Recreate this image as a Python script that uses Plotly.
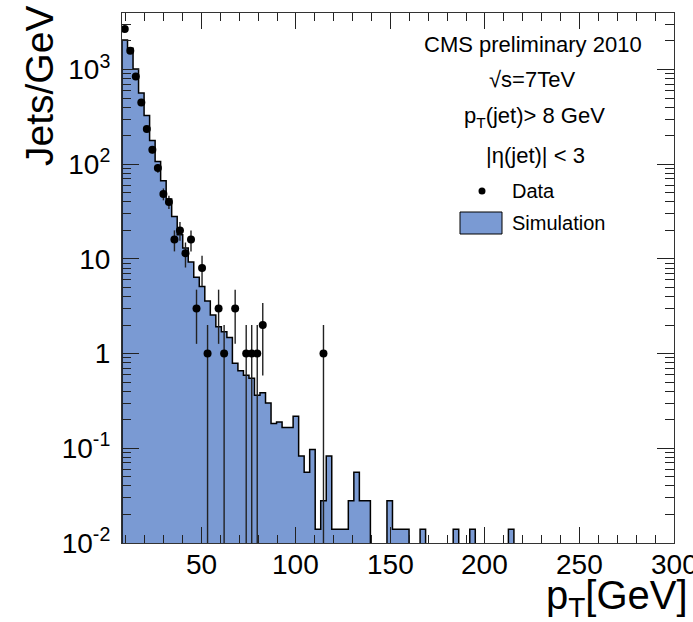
import math
import plotly.graph_objects as go

# ---------------- data ----------------
x_min, x_max = 8.0, 300.0
bin_width = 2.92          # 100 bins between 8 and 300 GeV
n_bins = 100

# simulation (Jets/GeV) per bin, bins 0..70 (later bins empty)
sim_vals = [2050, 1680, 1010, 564, 327, 178, 107, 67, 43, 28,
            18, 13, 9.3, 6.4, 5.1, 3.6, 2.55, 1.92, 1.70, 1.48,
            0.79, 0.66, 0.59, 0.55, 0.364, 0.385, 0.30, 0.183, 0.19, 0.166,
            0.166, 0.218, 0.083, 0.056, 0.097, 0.014, 0.028, 0.083, 0.014, 0.014,
            0.014, 0.028, 0.056, 0.028, 0.028, 0, 0, 0, 0.028, 0.014,
            0.014, 0.014, 0, 0, 0.014, 0, 0, 0, 0, 0,
            0.014, 0, 0, 0.014, 0, 0, 0, 0, 0, 0,
            0.014]

# data (Jets/GeV) per bin, bins 0..36 (0 = no entry)
data_vals = [2670, 1580, 843, 448, 236, 142, 91, 48.5, 40, 16,
             20, 11.5, 16, 3, 8, 1, 0, 3, 1, 0,
             3, 0, 1, 1, 1, 2, 0, 0, 0, 0,
             0, 0, 0, 0, 0, 0, 1]

y_tick_vals = [0.01, 0.1, 1, 10, 100, 1000]
y_tick_text = ["10<sup>-2</sup>", "10<sup>-1</sup>", "1", "10",
               "10<sup>2</sup>", "10<sup>3</sup>"]
x_tick_vals = [50, 100, 150, 200, 250, 300]
x_tick_text = ["50", "100", "150", "200", "250", "300"]
y_top = 3950

# ---------------- layout geometry (pixels) ----------------
W, H = 693, 622
PL, PR, PT, PB = 122, 674, 13, 543


def px(x):
    return (x - PL) / (PR - PL)


def py(y):
    return (PB - y) / (PB - PT)


FONT = "Liberation Sans, Arial, Helvetica, sans-serif"
FILL = "rgb(122,154,211)"

edges = [x_min + bin_width * i for i in range(n_bins + 1)]
sim_full = sim_vals + [0] * (n_bins - len(sim_vals))
floor = 1e-6
hx = [edges[0]] + edges[:n_bins] + [edges[n_bins]]
hy = [floor] + [v if v > 0 else floor for v in sim_full] + [floor]

dx, dy, eplus, eminus = [], [], [], []
for k, v in enumerate(data_vals):
    if v > 0:
        dx.append(edges[k] + bin_width / 2)
        dy.append(v)
        e = math.sqrt(v)
        eplus.append(e)
        eminus.append(min(e, v - 1e-5))

fig = go.Figure()
fig.add_trace(go.Scatter(
    x=hx, y=hy, mode="lines", line=dict(shape="hv", color="black", width=1.5),
    fill="toself", fillcolor=FILL, hoverinfo="skip", showlegend=False))
fig.add_trace(go.Scatter(
    x=dx, y=dy, mode="markers",
    marker=dict(color="black", size=8),
    error_y=dict(type="data", array=eplus, arrayminus=eminus,
                 color="#222222", thickness=1.4, width=0),
    showlegend=False))

minor_y = [m * 10 ** d for d in range(-2, 4) for m in range(2, 10) if m * 10 ** d < y_top]
minor_x = [v for v in range(10, 300, 10) if v % 50 != 0]

fig.update_xaxes(
    range=[x_min, x_max], tickmode="array", tickvals=x_tick_vals,
    showticklabels=False,
    ticks="inside", ticklen=16, tickwidth=1, tickcolor="#222",
    minor=dict(tickmode="array", tickvals=minor_x, ticks="inside", ticklen=8,
               tickwidth=1, tickcolor="#222", showgrid=False),
    showline=True, linecolor="#333", linewidth=1.2, mirror="ticks",
    showgrid=False, zeroline=False)
fig.update_yaxes(
    type="log", range=[-2, math.log10(y_top)],
    tickmode="array", tickvals=y_tick_vals, ticktext=y_tick_text,
    ticks="inside", ticklen=17, tickwidth=1, tickcolor="#222",
    minor=dict(tickmode="array", tickvals=minor_y, ticks="inside", ticklen=9,
               tickwidth=1, tickcolor="#222", showgrid=False),
    showline=True, linecolor="#333", linewidth=1.2, mirror="ticks",
    showgrid=False, zeroline=False,
    tickfont=dict(family=FONT, size=28, color="black"), ticklabelstandoff=5)

ann = []
# x tick labels (drawn as annotations so that the last one can run off the page like the original)
for v, t in zip(x_tick_vals, x_tick_text):
    ann.append(dict(text=t, x=v, y=py(564), xref="x", yref="paper",
                    xanchor="center", yanchor="middle", showarrow=False,
                    font=dict(family=FONT, size=28, color="black")))
ann.append(dict(text="Jets/GeV", textangle=-90, x=px(40), y=py(4), xref="paper", yref="paper",
                xanchor="center", yanchor="top", showarrow=False,
                font=dict(family=FONT, size=39, color="black")))
ann.append(dict(text="p<sub>T</sub>[GeV]", x=px(690), y=py(571), xref="paper", yref="paper",
                xanchor="right", yanchor="top", showarrow=False,
                font=dict(family=FONT, size=40, color="black")))
for txt, cx, cy, fs in [("CMS preliminary 2010", 533, 45, 22),
                        ("√s=7TeV", 532, 80, 22),
                        ("p<sub>T</sub>(jet)&gt; 8 GeV", 534, 117, 22),
                        ("|η(jet)| &lt; 3", 535, 155, 22)]:
    ann.append(dict(text=txt, x=px(cx), y=py(cy), xref="paper", yref="paper",
                    xanchor="center", yanchor="middle", showarrow=False,
                    font=dict(family=FONT, size=fs, color="black")))
ann.append(dict(text="Data", x=px(510), y=py(191), xref="paper", yref="paper",
                xanchor="left", yanchor="middle", showarrow=False,
                font=dict(family=FONT, size=20, color="black")))
ann.append(dict(text="Simulation", x=px(510), y=py(223), xref="paper", yref="paper",
                xanchor="left", yanchor="middle", showarrow=False,
                font=dict(family=FONT, size=20, color="black")))

shapes = [
    dict(type="circle", xref="paper", yref="paper",
         x0=px(478.5), x1=px(485.5), y0=py(194.5), y1=py(187.5),
         fillcolor="black", line=dict(color="black", width=0)),
    dict(type="rect", xref="paper", yref="paper",
         x0=px(460), x1=px(502), y0=py(234), y1=py(212),
         fillcolor=FILL, line=dict(color="black", width=1)),
]

fig.update_layout(
    width=W, height=H, margin=dict(l=PL, r=W - PR, t=PT, b=H - PB),
    paper_bgcolor="white", plot_bgcolor="white",
    annotations=ann, shapes=shapes, showlegend=False)

fig.write_html("out.html")
